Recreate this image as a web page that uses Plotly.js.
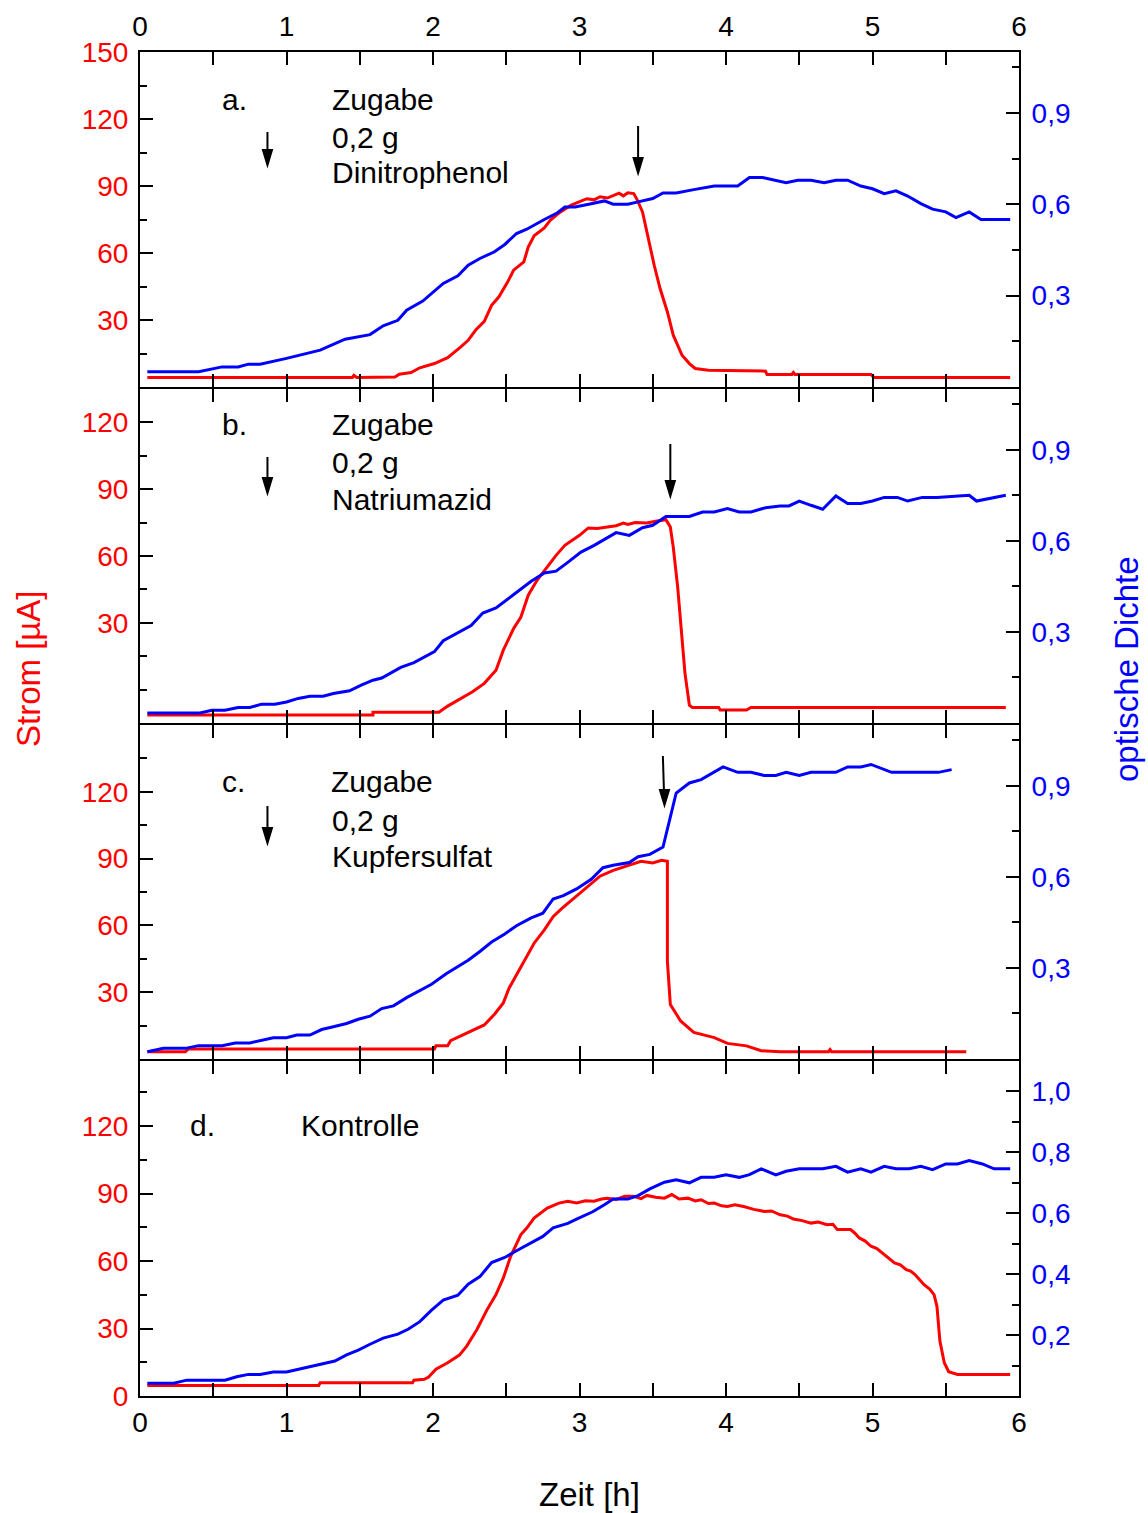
<!DOCTYPE html>
<html><head><meta charset="utf-8">
<script src="https://cdn.plot.ly/plotly-3.0.1.min.js"></script>
<style>html,body{margin:0;padding:0;background:#fff}</style>
</head><body><div id="chart" style="width:1148px;height:1513px"></div>
<script>
// ---------- DATA (time [h], value) ----------
// Panel a: Dinitrophenol
const odA = [[0.05,0.050],[0.40,0.050],[0.56,0.066],[0.67,0.066],[0.74,0.075],[0.82,0.075],[1.00,0.094],[1.23,0.121],[1.40,0.157],[1.57,0.172],[1.66,0.201],[1.76,0.219],[1.82,0.252],[1.93,0.282],[2.07,0.340],[2.17,0.365],[2.24,0.400],[2.32,0.422],[2.42,0.444],[2.49,0.468],[2.57,0.504],[2.64,0.518],[2.76,0.550],[2.85,0.572],[2.90,0.591],[2.97,0.591],[3.08,0.602],[3.17,0.611],[3.23,0.600],[3.33,0.600],[3.40,0.608],[3.50,0.619],[3.57,0.637],[3.66,0.637],[3.78,0.648],[3.92,0.660],[4.08,0.660],[4.16,0.688],[4.25,0.688],[4.36,0.675],[4.41,0.671],[4.49,0.679],[4.58,0.679],[4.67,0.671],[4.75,0.679],[4.83,0.679],[4.92,0.660],[5.00,0.651],[5.08,0.635],[5.16,0.644],[5.24,0.627],[5.33,0.602],[5.41,0.584],[5.50,0.575],[5.57,0.556],[5.66,0.575],[5.74,0.550],[5.94,0.550]];
const curA = [[0.05,4.3],[1.45,4.3],[1.46,5.2],[1.48,4.3],[1.74,4.5],[1.77,5.7],[1.85,6.5],[1.91,8.6],[2.01,10.5],[2.10,13.1],[2.19,18.0],[2.24,20.9],[2.29,25.4],[2.35,29.4],[2.40,36.6],[2.45,40.4],[2.51,47.1],[2.55,52.3],[2.62,56.0],[2.65,62.7],[2.69,67.7],[2.76,71.2],[2.80,74.6],[2.87,78.4],[2.94,81.3],[3.00,82.9],[3.05,84.3],[3.10,83.8],[3.14,85.2],[3.19,84.6],[3.23,85.8],[3.27,86.8],[3.30,85.6],[3.33,87.0],[3.37,86.6],[3.39,84.3],[3.43,78.4],[3.46,69.4],[3.51,54.5],[3.55,44.1],[3.60,33.6],[3.64,23.2],[3.70,14.2],[3.75,10.5],[3.79,8.3],[3.88,7.5],[4.27,7.1],[4.28,5.6],[4.45,5.6],[4.46,6.5],[4.47,5.6],[4.99,5.6],[5.01,4.3],[5.94,4.3]];
// Panel b: Natriumazid
const odB = [[0.05,0.033],[0.41,0.033],[0.49,0.042],[0.58,0.042],[0.67,0.051],[0.75,0.051],[0.83,0.062],[0.92,0.062],[1.00,0.069],[1.08,0.081],[1.16,0.088],[1.25,0.088],[1.32,0.097],[1.43,0.106],[1.51,0.125],[1.59,0.141],[1.65,0.148],[1.71,0.165],[1.78,0.183],[1.87,0.199],[2.01,0.235],[2.07,0.271],[2.17,0.296],[2.26,0.321],[2.34,0.362],[2.43,0.379],[2.54,0.419],[2.67,0.467],[2.76,0.494],[2.84,0.500],[2.92,0.529],[3.01,0.563],[3.10,0.585],[3.17,0.605],[3.25,0.627],[3.34,0.618],[3.43,0.643],[3.50,0.651],[3.59,0.680],[3.75,0.680],[3.84,0.695],[3.92,0.695],[4.01,0.706],[4.09,0.695],[4.17,0.695],[4.27,0.709],[4.37,0.715],[4.43,0.715],[4.50,0.731],[4.58,0.717],[4.66,0.704],[4.75,0.748],[4.83,0.723],[4.92,0.723],[5.00,0.731],[5.08,0.743],[5.17,0.743],[5.24,0.731],[5.34,0.743],[5.44,0.743],[5.66,0.750],[5.71,0.731],[5.91,0.750]];
const curB = [[0.05,-11.4],[1.59,-11.4],[1.59,-10.2],[2.04,-10.2],[2.10,-7.4],[2.19,-3.9],[2.27,-1.0],[2.35,2.8],[2.43,8.7],[2.48,17.7],[2.55,27.4],[2.60,32.6],[2.65,42.4],[2.71,49.1],[2.77,54.3],[2.84,60.3],[2.90,64.8],[3.00,69.3],[3.06,72.6],[3.12,72.4],[3.19,73.0],[3.25,73.6],[3.30,74.8],[3.33,74.2],[3.38,75.0],[3.46,74.8],[3.52,75.6],[3.59,76.3],[3.62,73.0],[3.64,64.0],[3.67,46.1],[3.69,29.7],[3.72,7.3],[3.75,-7.0],[3.77,-8.0],[3.95,-8.0],[3.96,-9.2],[4.14,-9.2],[4.17,-8.0],[5.91,-8.0]];
// Panel c: Kupfersulfat
const odC = [[0.05,0.024],[0.16,0.035],[0.31,0.035],[0.40,0.044],[0.56,0.044],[0.65,0.053],[0.75,0.053],[0.83,0.062],[0.91,0.070],[1.00,0.070],[1.07,0.079],[1.16,0.079],[1.24,0.097],[1.32,0.106],[1.41,0.117],[1.49,0.131],[1.57,0.141],[1.65,0.166],[1.73,0.175],[1.82,0.202],[1.90,0.224],[1.99,0.246],[2.09,0.281],[2.17,0.303],[2.24,0.325],[2.32,0.354],[2.40,0.385],[2.49,0.412],[2.57,0.439],[2.67,0.465],[2.75,0.480],[2.82,0.527],[2.89,0.538],[2.98,0.560],[3.08,0.592],[3.16,0.630],[3.23,0.638],[3.34,0.647],[3.40,0.666],[3.48,0.674],[3.57,0.698],[3.66,0.876],[3.75,0.909],[3.83,0.920],[3.92,0.945],[3.98,0.962],[4.08,0.944],[4.17,0.944],[4.26,0.934],[4.34,0.934],[4.41,0.944],[4.50,0.934],[4.58,0.944],[4.75,0.944],[4.83,0.962],[4.92,0.962],[4.99,0.970],[5.13,0.944],[5.45,0.944],[5.54,0.953]];
const curC = [[0.05,3.3],[0.31,3.3],[0.33,4.5],[2.01,4.5],[2.02,5.9],[2.10,5.9],[2.12,8.2],[2.19,10.4],[2.26,12.6],[2.35,15.3],[2.42,20.1],[2.48,25.2],[2.52,31.9],[2.57,37.9],[2.62,43.8],[2.69,52.0],[2.76,58.0],[2.82,63.9],[2.88,67.6],[2.96,72.1],[3.05,77.3],[3.14,82.1],[3.23,84.7],[3.32,86.7],[3.42,88.8],[3.50,88.0],[3.56,89.2],[3.60,88.8],[3.60,43.8],[3.62,24.5],[3.69,17.1],[3.78,11.9],[3.92,9.6],[4.01,7.0],[4.14,5.9],[4.24,3.7],[4.37,3.3],[4.70,3.3],[4.71,4.2],[4.72,3.3],[5.64,3.3]];
// Panel d: Kontrolle
const odD = [[0.05,0.042],[0.23,0.042],[0.32,0.052],[0.58,0.052],[0.66,0.063],[0.74,0.071],[0.82,0.071],[0.91,0.079],[1.00,0.079],[1.08,0.088],[1.18,0.099],[1.25,0.108],[1.33,0.115],[1.41,0.135],[1.49,0.151],[1.57,0.170],[1.66,0.190],[1.76,0.203],[1.83,0.219],[1.91,0.244],[1.99,0.282],[2.07,0.315],[2.17,0.331],[2.24,0.367],[2.32,0.392],[2.40,0.438],[2.49,0.455],[2.57,0.477],[2.65,0.499],[2.75,0.524],[2.82,0.552],[2.92,0.567],[2.98,0.581],[3.09,0.605],[3.17,0.628],[3.23,0.647],[3.33,0.647],[3.40,0.658],[3.48,0.680],[3.58,0.702],[3.66,0.710],[3.75,0.700],[3.83,0.718],[3.92,0.718],[4.00,0.726],[4.09,0.718],[4.16,0.727],[4.24,0.746],[4.34,0.726],[4.41,0.738],[4.50,0.746],[4.66,0.746],[4.75,0.754],[4.83,0.735],[4.92,0.746],[4.99,0.735],[5.08,0.754],[5.16,0.746],[5.25,0.746],[5.33,0.754],[5.41,0.743],[5.50,0.762],[5.58,0.762],[5.66,0.773],[5.75,0.762],[5.83,0.746],[5.94,0.746]];
const curD = [[0.05,4.7],[1.22,4.7],[1.23,5.9],[1.86,5.9],[1.87,7.0],[1.94,7.4],[1.97,8.4],[2.02,11.9],[2.10,14.8],[2.18,18.2],[2.23,22.2],[2.30,29.6],[2.37,38.5],[2.43,45.1],[2.48,52.5],[2.53,62.1],[2.60,71.8],[2.64,74.7],[2.69,79.1],[2.78,83.6],[2.86,85.8],[2.92,86.6],[2.98,85.9],[3.04,86.8],[3.10,86.6],[3.15,87.6],[3.19,88.0],[3.25,87.4],[3.31,88.8],[3.37,88.8],[3.42,87.8],[3.46,89.2],[3.52,88.4],[3.58,88.0],[3.63,89.6],[3.68,87.6],[3.74,88.0],[3.79,86.8],[3.83,87.3],[3.88,85.6],[3.92,85.8],[3.97,84.6],[4.01,84.3],[4.06,85.0],[4.12,84.3],[4.19,83.0],[4.26,82.1],[4.31,82.3],[4.37,80.6],[4.42,80.0],[4.46,78.7],[4.52,78.0],[4.58,76.9],[4.63,77.4],[4.69,76.2],[4.73,76.4],[4.76,74.0],[4.85,74.0],[4.88,72.4],[4.91,70.3],[4.95,68.9],[4.99,66.6],[5.03,65.6],[5.07,63.6],[5.11,61.2],[5.15,59.2],[5.19,58.3],[5.23,56.2],[5.26,55.6],[5.29,54.0],[5.32,51.8],[5.35,49.6],[5.39,47.6],[5.42,45.1],[5.44,39.9],[5.46,24.4],[5.49,14.8],[5.52,10.8],[5.58,9.6],[5.94,9.6]];

// Arrow (addition) times per panel
const arrowTimesA = [0.87, 3.40];
const arrowTimesB = [0.87, 3.62];
const arrowTimesC = [0.87, 3.58];

const RED = '#ff0000', BLUE = '#0000ff';
const FONT = 'Liberation Sans, Arial, sans-serif';
const W = 1148, H = 1513;
const M = {l:140, r:129, t:52, b:117};
const PW = W - M.l - M.r, PH = H - M.t - M.b;
const xp = px => (px - M.l) / PW;
const yp = py => (H - M.b - py) / PH;
const G = 1 / PH; // one pixel in paper units (lets adjacent frame lines coincide)

const xs = a => a.map(p => p[0]);
const ys = a => a.map(p => p[1]);

function tr(data, color, xa, ya) {
  return {x: xs(data), y: ys(data), xaxis: xa, yaxis: ya, type: 'scatter', mode: 'lines',
          line: {color: color, width: 3}, hoverinfo: 'skip', showlegend: false};
}

const traces = [
  tr(curA, RED, 'x', 'y'), tr(odA, BLUE, 'x', 'y2'),
  tr(curB, RED, 'x2', 'y3'), tr(odB, BLUE, 'x2', 'y4'),
  tr(curC, RED, 'x3', 'y5'), tr(odC, BLUE, 'x3', 'y6'),
  tr(curD, RED, 'x4', 'y7'), tr(odD, BLUE, 'x4', 'y8')
];

const tickCommon = {ticks: 'inside', ticklen: 13, tickwidth: 2, tickcolor: '#000',
  showline: true, linewidth: 2, linecolor: '#000', showgrid: false, zeroline: false, fixedrange: true};
const minorCommon = {ticks: 'inside', ticklen: 7, tickwidth: 2, tickcolor: '#000', showgrid: false};

function xAxis(anchor, side, labels, standoff) {
  return Object.assign({}, tickCommon, {
    range: [0, 6], anchor: anchor, side: side, mirror: 'allticks', tickmode: 'linear', tick0: 0, dtick: 1,
    showticklabels: labels, ticklabelstandoff: standoff,
    tickfont: {family: FONT, size: 28, color: '#000'},
    minor: Object.assign({}, minorCommon, {dtick: 0.5, tick0: 0})
  });
}
function yLeft(anchor, domain, range, vals, minorVals) {
  return Object.assign({}, tickCommon, {
    domain: domain, range: range, anchor: anchor, side: 'left', mirror: false,
    tickmode: 'array', tickvals: vals, ticklabelstandoff: 4,
    tickfont: {family: FONT, size: 28, color: RED},
    minor: Object.assign({}, minorCommon, {tickmode: 'array', tickvals: minorVals})
  });
}
function yRight(anchor, over, vals, minorVals) {
  return Object.assign({}, tickCommon, {
    overlaying: over, anchor: anchor, side: 'right', range: [0, 1.1],
    tickmode: 'array', tickvals: vals, tickformat: '.1f', ticklabelstandoff: 5,
    tickfont: {family: FONT, size: 28, color: BLUE},
    minor: Object.assign({}, minorCommon, {tickmode: 'array', tickvals: minorVals})
  });
}

const odMaj = [0.3, 0.6, 0.9], odMin = [0.15, 0.45, 0.75, 1.05];
const layout = {
  width: W, height: H, margin: M, paper_bgcolor: '#fff', plot_bgcolor: 'rgba(0,0,0,0)',
  separators: ',.', showlegend: false, font: {family: FONT},
  xaxis: xAxis('y', 'top', true, 3),
  xaxis2: xAxis('y3', 'bottom', false, 0),
  xaxis3: xAxis('y5', 'bottom', false, 0),
  xaxis4: xAxis('y7', 'bottom', true, 0),
  yaxis: yLeft('x', [0.75 + G, 1], [0, 150], [30, 60, 90, 120, 150], [15, 45, 75, 105, 135]),
  yaxis2: yRight('x', 'y', odMaj, odMin),
  yaxis3: yLeft('x2', [0.5 + G, 0.75 - G], [-15, 135], [30, 60, 90, 120], [0, 15, 45, 75, 105]),
  yaxis4: yRight('x2', 'y3', odMaj, odMin),
  yaxis5: yLeft('x3', [0.25 + G, 0.5 - G], [0, 150], [30, 60, 90, 120], [15, 45, 75, 105, 135]),
  yaxis6: yRight('x3', 'y5', odMaj, odMin),
  yaxis7: yLeft('x4', [0, 0.25 - G], [0, 149], [0, 30, 60, 90, 120], [15, 45, 75, 105, 135]),
  yaxis8: yRight('x4', 'y7', [0.2, 0.4, 0.6, 0.8, 1.0], [0.1, 0.3, 0.5, 0.7, 0.9]),
  annotations: [],
  shapes: []
};

function txt(text, px, py, size, color) {
  layout.annotations.push({text: text, xref: 'paper', yref: 'paper', x: xp(px), y: yp(py),
    xanchor: 'left', yanchor: 'middle', showarrow: false,
    font: {family: FONT, size: size, color: color}});
}
// panel labels
txt('a.', 220, 99, 30, '#000'); txt('Zugabe', 330, 99, 30, '#000'); txt('0,2 g', 330, 137, 30, '#000'); txt('Dinitrophenol', 330, 173, 30, '#000');
txt('b.', 220, 424, 30, '#000'); txt('Zugabe', 330, 424, 30, '#000'); txt('0,2 g', 330, 463, 30, '#000'); txt('Natriumazid', 330, 499, 30, '#000');
txt('c.', 220, 781, 30, '#000'); txt('Zugabe', 329, 781, 30, '#000'); txt('0,2 g', 330, 820, 30, '#000'); txt('Kupfersulfat', 330, 857, 30, '#000');
txt('d.', 188, 1125, 30, '#000'); txt('Kontrolle', 299, 1125, 30, '#000');
// axis titles
layout.annotations.push({text: 'Strom [µA]', xref: 'paper', yref: 'paper', x: xp(28), y: yp(669), xanchor: 'center', yanchor: 'middle',
  showarrow: false, textangle: -90, font: {family: FONT, size: 33, color: RED}});
layout.annotations.push({text: 'optische Dichte', xref: 'paper', yref: 'paper', x: xp(1126), y: yp(669), xanchor: 'center', yanchor: 'middle',
  showarrow: false, textangle: -90, font: {family: FONT, size: 33, color: BLUE}});
layout.annotations.push({text: 'Zeit [h]', xref: 'paper', yref: 'paper', x: xp(589), y: yp(1494), xanchor: 'center', yanchor: 'middle',
  showarrow: false, font: {family: FONT, size: 33, color: '#000'}});

// arrows: tip anchored at addition time (x data) and paper y; geometry in pixels
function arrow(xa, t, tipPy, len, dx) {
  dx = dx || 0;
  layout.shapes.push({type: 'path', xref: xa, yref: 'paper', xsizemode: 'pixel', ysizemode: 'pixel',
    xanchor: t, yanchor: yp(tipPy),
    path: 'M' + dx + ',' + len + ' L' + (dx * 16 / len).toFixed(2) + ',15 M-4.5,16 L4.5,16 L0,1 Z',
    line: {color: '#000', width: 2}, fillcolor: '#000', layer: 'above'});
}
arrow('x', arrowTimesA[0], 166, 34);
arrow('x', arrowTimesA[1], 174, 48);
arrow('x2', arrowTimesB[0], 494, 37);
arrow('x2', arrowTimesB[1], 497, 53);
arrow('x3', arrowTimesC[0], 844, 38);
arrow('x3', arrowTimesC[1], 806, 50, -1.6);

Plotly.newPlot('chart', traces, layout, {staticPlot: true, displayModeBar: false});
</script>
</body></html>
